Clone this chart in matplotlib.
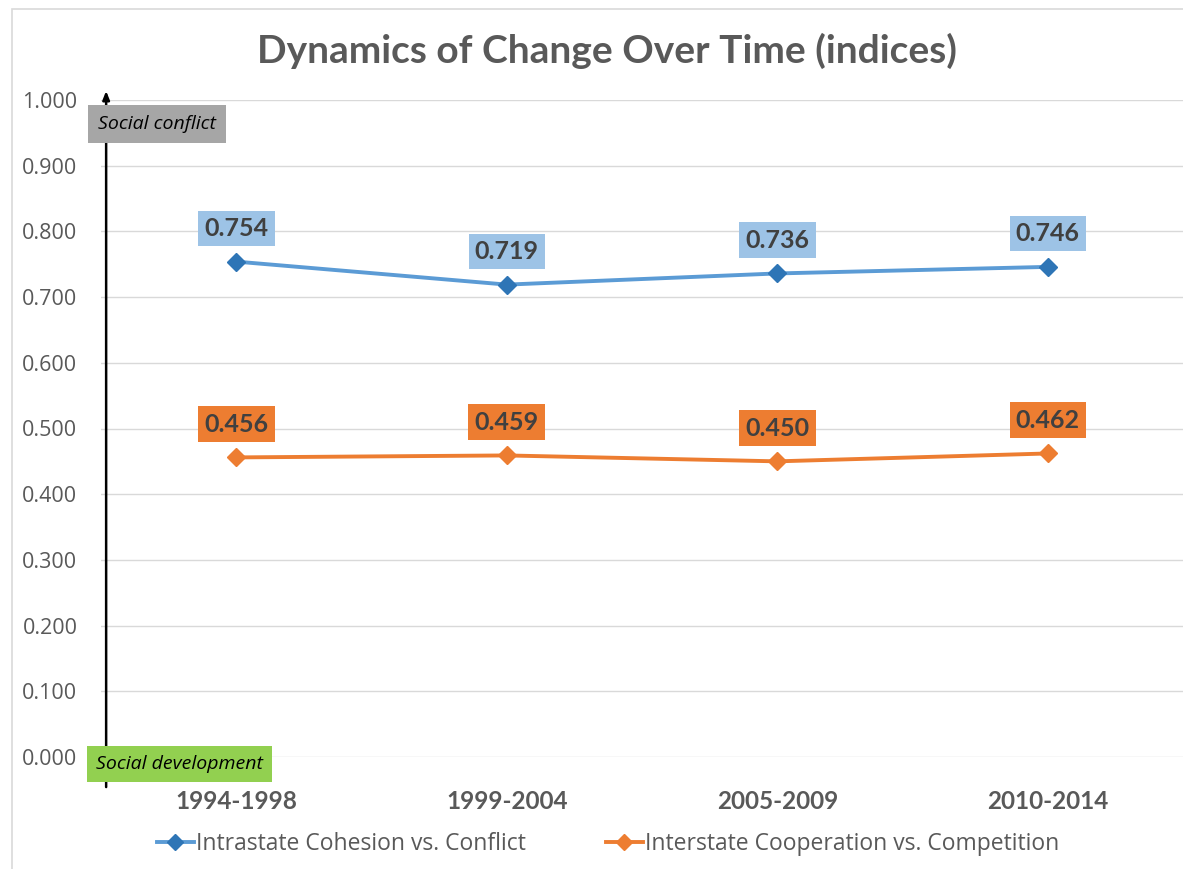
import matplotlib
matplotlib.use("Agg")
import matplotlib.pyplot as plt
from matplotlib.patches import Rectangle
from matplotlib.lines import Line2D

## Data
periods = ["1994-1998", "1999-2004", "2005-2009", "2010-2014"]
intrastate = [0.754, 0.719, 0.736, 0.746]
interstate = [0.456, 0.459, 0.450, 0.462]
series_names = ["Intrastate Cohesion vs. Conflict", "Interstate Cooperation vs. Competition"]
y_ticks = [0.0, 0.1, 0.2, 0.3, 0.4, 0.5, 0.6, 0.7, 0.8, 0.9, 1.0]

grey_text = "#595959"
blue_line = "#5b9bd5"
blue_marker = "#2e75b6"
blue_box = "#9dc3e6"
orange = "#ed7d31"

plt.rcParams["font.family"] = ["Open Sans", "DejaVu Sans"]

fig = plt.figure(figsize=(11.83, 8.69), dpi=100)
ax = fig.add_axes([101 / 1183, 1 - 757 / 869, 1 - 101 / 1183, (757 - 100) / 869])

# chart frame (only left and top edges visible)
fig.patches.append(Rectangle((12 / 1183, -0.05), 1.2, 1 - 9 / 869 + 0.05,
                             transform=fig.transFigure, fill=False,
                             edgecolor="#d9d9d9", linewidth=1.2))

x = list(range(len(periods)))

## Lines
ax.plot(x, intrastate, color=blue_line, linewidth=2.8, marker="D",
        markersize=9, markerfacecolor=blue_marker, markeredgecolor=blue_marker, zorder=3)
ax.plot(x, interstate, color=orange, linewidth=2.8, marker="D",
        markersize=9, markerfacecolor=orange, markeredgecolor=orange, zorder=3)

## Data labels
for xi, v in zip(x, intrastate):
    ax.annotate(f"{v:.3f}", (xi, v), xytext=(0, 24), textcoords="offset points",
                ha="center", va="center", fontsize=18, fontweight="bold",
                family="Lato", color="#404040",
                bbox=dict(boxstyle="square,pad=0.25", facecolor=blue_box, edgecolor="none"),
                zorder=4)
for xi, v in zip(x, interstate):
    ax.annotate(f"{v:.3f}", (xi, v), xytext=(0, 24), textcoords="offset points",
                ha="center", va="center", fontsize=18, fontweight="bold",
                family="Lato", color="#404040",
                bbox=dict(boxstyle="square,pad=0.25", facecolor=orange, edgecolor="none"),
                zorder=4)

## Axes styling
ax.set_xlim(-0.5, 3.5)
ax.set_ylim(0, 1.0)
ax.set_yticks(y_ticks)
ax.set_yticklabels([f"{t:.3f}" for t in y_ticks], fontsize=15.5, color=grey_text)
ax.set_xticks(x)
ax.set_xticklabels(periods, fontsize=17.5, fontweight="bold", family="Lato", color=grey_text)
ax.tick_params(axis="both", length=0)
ax.tick_params(axis="x", pad=24)
ax.tick_params(axis="y", pad=17)
ax.grid(axis="y", color="#d9d9d9", linewidth=1)
ax.set_axisbelow(True)
for s in ax.spines.values():
    s.set_visible(False)

## Vertical arrow with the two end boxes
ax.annotate("", xy=(-0.481, 1.018), xytext=(-0.481, -0.05),
            xycoords="data", textcoords="data",
            arrowprops=dict(arrowstyle="-|>,head_width=0.2,head_length=0.5",
                            color="black", linewidth=1.8),
            annotation_clip=False)
fig.text(98 / 1183, 1 - 124 / 869, "Social conflict", fontsize=14, style="italic",
         color="black", va="center", ha="left",
         bbox=dict(boxstyle="square,pad=0.5", facecolor="#a6a6a6", edgecolor="none"))
fig.text(96 / 1183, 1 - 764 / 869, "Social development", fontsize=14, style="italic",
         color="black", va="center", ha="left",
         bbox=dict(boxstyle="square,pad=0.45", facecolor="#92d050", edgecolor="none"))

## Title
fig.text(607 / 1183, 1 - 51 / 869, "Dynamics of Change Over Time (indices)",
         fontsize=28, fontweight="bold", family="Lato", color=grey_text,
         ha="center", va="center")

## Legend
handles = [
    Line2D([], [], color=blue_line, linewidth=2.8, marker="D", markersize=8,
           markerfacecolor=blue_marker, markeredgecolor=blue_marker),
    Line2D([], [], color=orange, linewidth=2.8, marker="D", markersize=8,
           markerfacecolor=orange, markeredgecolor=orange),
]
fig.legend(handles, series_names, loc="center", bbox_to_anchor=(608 / 1183, 1 - 844 / 869),
           ncol=2, frameon=False, fontsize=16.5, labelcolor=grey_text,
           handlelength=1.6, handletextpad=0.1, columnspacing=3.5)

fig.savefig("out.png", dpi=100)
